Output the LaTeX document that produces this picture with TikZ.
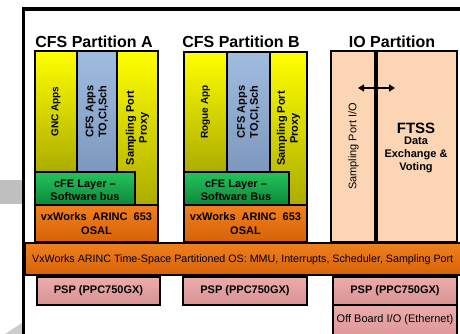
\documentclass[tikz,border=0pt]{standalone}
\usepackage{fontspec}
\setmainfont{Liberation Sans}
\usetikzlibrary{arrows.meta}
\definecolor{yTop}{RGB}{255,255,0}
\definecolor{yBot}{RGB}{172,172,0}
\definecolor{bTop}{RGB}{160,188,222}
\definecolor{bBot}{RGB}{124,152,190}
\definecolor{gTop}{RGB}{36,196,92}
\definecolor{gBot}{RGB}{12,136,58}
\definecolor{oTop}{RGB}{240,128,30}
\definecolor{oBot}{RGB}{214,98,8}
\definecolor{pTop}{RGB}{236,172,172}
\definecolor{pBot}{RGB}{216,146,146}
\definecolor{peach}{RGB}{252,213,181}
\newcommand\mkbox[6]{\node[box,#6,minimum width={#4-#2},minimum height={#5-#3}] (#1) at (#2,#3) {};}
\begin{document}
\begin{tikzpicture}[x=1pt,y=-1pt,
  box/.style={draw=black, line width=2pt, inner sep=0pt, outer sep=0pt, anchor=north west},
  yel/.style={top color=yTop, bottom color=yBot},
  blu/.style={top color=bTop, bottom color=bBot},
  grn/.style={top color=gTop, bottom color=gBot},
  org/.style={top color=oTop, bottom color=oBot},
  pnk/.style={top color=pTop, bottom color=pBot},
  pch/.style={fill=peach},
  ttl/.style={font=\fontsize{16}{18}\selectfont\bfseries, inner sep=0pt},
  lb/.style={font=\fontsize{11}{13}\selectfont\bfseries, align=center, inner sep=0pt},
  lr/.style={font=\fontsize{11}{13}\selectfont, align=center, inner sep=0pt},
]
\useasboundingbox (0,0) rectangle (460,334);
\clip (0,0) rectangle (460,334);
% background decorations
\fill[gray!50] (0,180) rectangle (22,204);
\fill[gray!40] (5,334) -- (22,323) -- (22,334) -- cycle;
\draw[line width=3.5pt, black] (23.5,360) -- (23.5,9) -- (480,9);
% titles
\node[ttl] (tA) at (94,42) {CFS Partition A};
\node[ttl] (tB) at (241,42) {CFS Partition B};
\node[ttl] (tIO) at (392,42) {IO Partition};
% column A
\mkbox{gncA}{35}{51}{77}{172}{yel}
\mkbox{cfsA}{77}{51}{117}{172}{blu}
\mkbox{sppA}{117}{51}{158}{205}{yel}
\mkbox{cfeA}{35}{172}{135}{205}{grn}
\mkbox{vxA}{35}{205}{158}{242}{org}
\mkbox{pspA}{37}{277}{160}{305}{pnk}
% column B
\mkbox{rogB}{184}{52}{227}{172}{yel}
\mkbox{cfsB}{227}{52}{270}{172}{blu}
\mkbox{sppB}{270}{52}{307}{205}{yel}
\mkbox{cfeB}{184}{172}{289}{205}{grn}
\mkbox{vxB}{184}{205}{307}{242}{org}
\mkbox{pspB}{183}{277}{307}{305}{pnk}
% IO partition
\mkbox{ioL}{331}{51}{376}{242}{pch}
\mkbox{ioR}{376}{51}{457}{242}{pch}
\draw[line width=4pt] (ioR.north west) -- (ioR.south west);
\mkbox{pspIO}{333}{277}{457}{305}{pnk}
\mkbox{offIO}{333}{305}{457}{345}{pnk}
% OS bar
\mkbox{osbar}{25}{243}{480}{275}{org}
% labels column A
\node[lb, rotate=90, font=\fontsize{10}{12}\selectfont\bfseries] (gncT) at (gncA.center) {GNC Apps};
\node[lb, rotate=90] (cfsAT) at (cfsA.center) {CFS Apps\\TO,CI,Sch};
\node[lb, rotate=90] (sppAT) at (sppA.center) {Sampling Port\\Proxy};
\node[lb] (cfeAT) at (85,190) {cFE Layer –\\Software bus};
\node[lb, font=\fontsize{11}{14}\selectfont\bfseries] (vxAT) at (vxA.center) {vxWorks\ \ ARINC\ \ 653\\OSAL};
\node[lb] (pspAT) at (pspA.center) {PSP (PPC750GX)};
% labels column B
\node[lb, rotate=90, font=\fontsize{10}{12}\selectfont\bfseries] (rogT) at (rogB.center) {Rogue App};
\node[lb, rotate=90] (cfsBT) at (cfsB.center) {CFS Apps\\TO,CI,Sch};
\node[lb, rotate=90] (sppBT) at (sppB.center) {Sampling Port\\Proxy};
\node[lb] (cfeBT) at (236,190) {cFE Layer –\\Software Bus};
\node[lb, font=\fontsize{11}{14}\selectfont\bfseries] (vxBT) at (vxB.center) {vxWorks\ \ ARINC\ \ 653\\OSAL};
\node[lb] (pspBT) at (pspB.center) {PSP (PPC750GX)};
% labels IO
\node[lr, rotate=90] (spioT) at (ioL.center) {Sampling Port I/O};
\node[lb, font=\fontsize{15}{17}\selectfont\bfseries] (ftss) at (416,128) {FTSS};
\node[lb] (dexT) at (416,155) {Data\\Exchange \&\\Voting};
\node[lb] (pspIOT) at (pspIO.center) {PSP (PPC750GX)};
\node[lr, anchor=center] (offT) at (395,320) {Off Board I/O (Ethernet)};
\node[lr, anchor=west, font=\fontsize{10.7}{13}\selectfont] (osT) at (32,260) {VxWorks ARINC Time-Space Partitioned OS: MMU, Interrupts, Scheduler, Sampling Port};
% arrow
\coordinate (arL) at (358,88);
\coordinate (arR) at (395,88);
\draw[line width=1.5pt, {Triangle[length=6pt,width=7pt]}-{Triangle[length=6pt,width=7pt]}] (arL) -- (arR);
\end{tikzpicture}
\end{document}
